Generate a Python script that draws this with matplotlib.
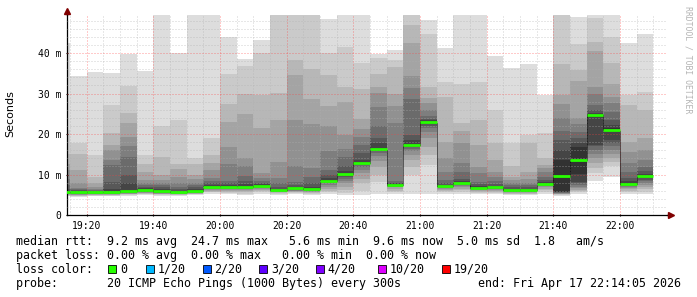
import matplotlib
matplotlib.use("Agg")
import matplotlib.pyplot as plt
from matplotlib.patches import Rectangle
import numpy as np

# ---------------- data ----------------
# bar start times, 5-minute steps from 19:10 to 22:05
bar_start_labels = ["19:10", "19:15", "19:20", "19:25", "19:30", "19:35", "19:40", "19:45",
                    "19:50", "19:55", "20:00", "20:05", "20:10", "20:15", "20:20", "20:25",
                    "20:30", "20:35", "20:40", "20:45", "20:50", "20:55", "21:00", "21:05",
                    "21:10", "21:15", "21:20", "21:25", "21:30", "21:35", "21:40", "21:45",
                    "21:50", "21:55", "22:00", "22:05"]

# median rtt per bar (ms)
median_rtt = [5.6, 5.6, 5.6, 5.7, 5.9, 6.2, 6.0, 5.6, 6.0, 7.0, 7.0, 7.0, 7.2, 6.2, 6.6, 6.3,
              8.5, 10.1, 12.9, 16.4, 7.5, 17.2, 22.9, 7.1, 7.8, 6.7, 6.8, 6.1, 6.1, 7.7, 9.7,
              13.5, 24.6, 21.1, 7.7, 9.6]

# 20 sorted ping rtts per bar (ms), used for the smoke
ping_1910 = [4.6, 4.8, 4.9, 5.0, 5.1, 5.2, 5.3, 5.4, 5.5, 5.55, 5.7, 6.0, 6.5, 7.5, 9.0, 11.0, 12.5, 15.0, 21.0, 42.4]
ping_1915 = [4.5, 4.7, 4.8, 4.9, 5.0, 5.1, 5.2, 5.3, 5.4, 5.5, 5.7, 5.9, 6.1, 6.3, 6.6, 7.8, 11.1, 15.1, 17.9, 34.3]
ping_1920 = [4.6, 4.8, 4.9, 5.0, 5.1, 5.2, 5.3, 5.4, 5.5, 5.55, 5.65, 5.8, 6.0, 6.2, 6.5, 7.0, 8.0, 9.5, 14.8, 35.4]
ping_1925 = [4.6, 4.8, 4.9, 5.0, 5.1, 5.2, 5.3, 5.4, 5.5, 5.6, 5.8, 6.3, 8.2, 12.4, 13.6, 16.0, 17.3, 20.2, 27.2, 35.1]
ping_1930 = [4.8, 5.0, 5.1, 5.2, 5.3, 5.4, 5.5, 5.6, 5.65, 5.7, 6.1, 7.8, 10.0, 14.4, 17.1, 19.3, 22.8, 25.3, 31.9, 39.8]
ping_1935 = [5.0, 5.2, 5.3, 5.4, 5.5, 5.6, 5.7, 5.8, 5.9, 6.05, 6.35, 6.6, 7.0, 7.5, 8.0, 8.6, 10.5, 12.6, 14.8, 35.6]
ping_1940 = [4.8, 5.0, 5.1, 5.2, 5.3, 5.4, 5.5, 5.6, 5.7, 5.85, 6.15, 6.5, 7.0, 7.5, 8.0, 8.6, 9.9, 14.4, 22.0, 50.0]
ping_1945 = [4.7, 4.9, 5.0, 5.1, 5.2, 5.3, 5.4, 5.45, 5.5, 5.55, 5.65, 5.9, 6.3, 6.8, 7.8, 9.3, 11.3, 12.6, 23.5, 39.9]
ping_1950 = [4.9, 5.1, 5.2, 5.3, 5.4, 5.5, 5.6, 5.7, 5.8, 5.9, 6.1, 6.4, 6.8, 7.3, 7.8, 8.8, 9.9, 12.6, 14.0, 50.0]
ping_1955 = [5.3, 5.6, 5.8, 6.0, 6.2, 6.4, 6.6, 6.7, 6.8, 6.9, 7.1, 7.4, 7.8, 8.3, 9.1, 11.1, 12.9, 14.8, 19.1, 50.0]
ping_2000 = [5.2, 5.5, 5.8, 6.0, 6.2, 6.4, 6.6, 6.7, 6.8, 6.9, 7.1, 7.5, 8.0, 8.5, 12.6, 16.9, 23.0, 27.4, 34.8, 43.9]
ping_2005 = [5.0, 5.3, 5.6, 5.9, 6.1, 6.3, 6.5, 6.7, 6.8, 6.9, 7.1, 7.6, 8.5, 9.7, 12.1, 14.2, 24.9, 30.0, 36.8, 38.5]
ping_2010 = [5.3, 5.6, 5.9, 6.2, 6.4, 6.6, 6.8, 6.9, 7.0, 7.1, 7.3, 7.6, 8.0, 8.5, 9.2, 10.3, 21.6, 29.6, 40.1, 43.2]
ping_2015 = [5.0, 5.2, 5.4, 5.6, 5.7, 5.8, 5.9, 6.0, 6.1, 6.15, 6.25, 6.5, 7.0, 7.8, 9.1, 13.2, 23.5, 30.2, 50.0, 50.0]
ping_2020 = [5.2, 5.4, 5.6, 5.8, 5.9, 6.0, 6.2, 6.3, 6.4, 6.5, 6.7, 7.0, 7.4, 8.2, 12.1, 23.5, 34.7, 38.3, 50.0, 50.0]
ping_2025 = [5.0, 5.2, 5.4, 5.6, 5.8, 5.9, 6.0, 6.1, 6.15, 6.2, 6.4, 7.0, 8.0, 9.5, 11.5, 22.6, 28.6, 36.0, 50.0, 50.0]
ping_2030 = [5.2, 5.6, 6.0, 6.5, 7.0, 7.4, 7.8, 8.1, 8.3, 8.4, 8.6, 9.2, 10.0, 11.1, 15.8, 22.0, 26.9, 34.6, 39.9, 48.4]
ping_2035 = [5.0, 5.5, 6.2, 7.0, 7.8, 8.5, 9.0, 9.5, 9.8, 10.0, 10.2, 10.8, 12.0, 14.4, 16.2, 19.8, 28.0, 31.5, 41.4, 50.0]
ping_2040 = [5.0, 6.0, 7.8, 9.0, 10.3, 11.0, 11.8, 12.3, 12.6, 12.8, 13.0, 13.6, 15.2, 17.3, 19.2, 21.2, 23.6, 31.0, 37.6, 50.0]
ping_2045 = [5.3, 8.2, 10.0, 11.9, 13.4, 14.5, 15.2, 15.7, 16.0, 16.2, 16.6, 17.8, 18.9, 22.0, 26.6, 30.2, 31.7, 34.8, 38.9, 39.8]
ping_2050 = [5.2, 5.6, 6.0, 6.4, 6.8, 7.0, 7.2, 7.3, 7.4, 7.4, 7.6, 7.8, 8.0, 8.4, 22.8, 26.9, 30.0, 36.5, 38.4, 40.7]
ping_2055 = [5.3, 9.9, 11.9, 13.5, 14.8, 15.8, 16.3, 16.7, 16.9, 17.1, 17.3, 18.5, 19.8, 28.6, 31.3, 34.3, 42.6, 46.9, 50.0, 50.0]
ping_2100 = [5.3, 12.3, 14.8, 16.9, 19.0, 20.5, 21.5, 22.0, 22.4, 22.7, 23.1, 23.4, 23.8, 24.5, 25.9, 27.6, 28.8, 31.7, 44.7, 48.1]
ping_2105 = [5.3, 5.6, 5.9, 6.2, 6.5, 6.7, 6.8, 6.9, 7.0, 7.05, 7.15, 7.5, 8.0, 8.6, 10.5, 14.0, 18.1, 29.1, 32.9, 41.3]
ping_2110 = [5.3, 5.7, 6.1, 6.5, 6.9, 7.2, 7.4, 7.6, 7.7, 7.75, 7.85, 8.3, 9.0, 10.7, 12.8, 17.9, 20.8, 22.8, 32.3, 50.0]
ping_2115 = [5.2, 5.5, 5.8, 6.0, 6.2, 6.4, 6.5, 6.6, 6.65, 6.7, 6.75, 7.2, 7.7, 8.2, 10.3, 11.9, 17.3, 23.5, 32.9, 50.0]
ping_2120 = [5.2, 5.5, 5.8, 6.0, 6.2, 6.4, 6.5, 6.6, 6.7, 6.75, 6.85, 7.2, 7.7, 8.5, 9.5, 10.7, 13.6, 17.7, 25.9, 39.3]
ping_2125 = [4.9, 5.1, 5.3, 5.5, 5.6, 5.7, 5.8, 5.9, 6.0, 6.05, 6.15, 6.4, 6.8, 7.3, 7.8, 8.6, 9.5, 12.0, 17.7, 36.2]
ping_2130 = [4.9, 5.1, 5.3, 5.5, 5.6, 5.7, 5.8, 5.9, 6.0, 6.05, 6.15, 6.4, 6.8, 7.3, 7.8, 9.0, 10.7, 17.7, 19.8, 37.4]
ping_2135 = [5.3, 5.7, 6.1, 6.5, 6.9, 7.2, 7.4, 7.5, 7.6, 7.65, 7.75, 8.1, 8.6, 9.5, 10.5, 11.5, 12.3, 14.0, 20.2, 29.6]
ping_2140 = [4.8, 5.0, 5.1, 5.2, 5.3, 5.4, 5.5, 5.6, 5.7, 5.8, 13.6, 16.0, 18.5, 20.8, 24.0, 27.3, 29.6, 37.4, 50.0, 50.0]
ping_2145 = [5.3, 5.6, 5.9, 6.2, 6.6, 7.0, 7.5, 7.9, 8.2, 10.1, 16.9, 17.8, 18.9, 20.5, 22.5, 23.9, 33.1, 35.8, 42.2, 48.8]
ping_2150 = [8.5, 10.3, 11.5, 12.8, 14.0, 15.0, 16.0, 17.0, 17.3, 24.3, 24.9, 25.3, 26.0, 27.2, 30.0, 31.5, 40.6, 42.8, 48.6, 50.0]
ping_2155 = [9.5, 12.1, 13.0, 14.0, 15.0, 16.0, 17.0, 17.7, 18.5, 20.6, 21.6, 22.3, 23.5, 25.5, 27.6, 29.1, 32.3, 37.6, 44.0, 50.0]
ping_2200 = [5.2, 5.6, 6.0, 6.4, 6.7, 6.9, 7.1, 7.3, 7.4, 7.5, 7.9, 8.4, 9.2, 10.5, 12.9, 15.5, 18.1, 27.2, 29.6, 42.4]
ping_2205 = [5.3, 5.8, 6.3, 6.8, 7.3, 7.8, 8.3, 8.7, 9.1, 9.4, 9.8, 10.2, 10.8, 11.9, 13.5, 16.0, 18.9, 25.9, 30.5, 44.7]

pings = [ping_1910, ping_1915, ping_1920, ping_1925, ping_1930, ping_1935, ping_1940, ping_1945,
         ping_1950, ping_1955, ping_2000, ping_2005, ping_2010, ping_2015, ping_2020, ping_2025,
         ping_2030, ping_2035, ping_2040, ping_2045, ping_2050, ping_2055, ping_2100, ping_2105,
         ping_2110, ping_2115, ping_2120, ping_2125, ping_2130, ping_2135, ping_2140, ping_2145,
         ping_2150, ping_2155, ping_2200, ping_2205]

x_tick_labels = ["19:20", "19:40", "20:00", "20:20", "20:40", "21:00", "21:20", "21:40", "22:00"]
y_ticks = [0, 10, 20, 30, 40]
y_tick_labels = ["0", "10 m", "20 m", "30 m", "40 m"]
view_start = "19:14:05"
view_end = "22:14:05"

loss_labels = ["0", "1/20", "2/20", "3/20", "4/20", "10/20", "19/20"]
loss_colors = ["#26ff00", "#00b8ff", "#0059ff", "#5e00ff", "#7e00ff", "#dd00ff", "#ff0000"]

legend_median = "median rtt:  9.2 ms avg  24.7 ms max   5.6 ms min  9.6 ms now  5.0 ms sd  1.8   am/s"
legend_loss = "packet loss: 0.00 % avg  0.00 % max   0.00 % min  0.00 % now"
legend_probe = "probe:       20 ICMP Echo Pings (1000 Bytes) every 300s"
legend_end = "end: Fri Apr 17 22:14:05 2026"
watermark = "RRDTOOL / TOBI OETIKER"

# ---------------- helpers ----------------
def to_min(s):
    parts = [float(p) for p in s.split(":")]
    while len(parts) < 3:
        parts.append(0.0)
    return parts[0] * 60 + parts[1] + parts[2] / 60.0

bar_x = np.array([to_min(s) for s in bar_start_labels])
step = 5.0
P = np.array(pings)
med = np.array(median_rtt)

W, H = 697, 297
fig = plt.figure(figsize=(W / 100, H / 100), dpi=100)
fig.patch.set_facecolor("white")
ax = fig.add_axes([67 / W, (H - 215) / H, 600 / W, 200 / H])
ax.set_facecolor("white")

x0, x1 = to_min(view_start), to_min(view_end)
ymax = 49.4
ax.set_xlim(x0, x1)
ax.set_ylim(0, ymax)

# smoke layers (smokeping style: outer pairs light, inner pairs dark)
for k in range(10):
    g = int(190 / 10 * (10 - (k + 1))) + 50
    col = "#%02x%02x%02x" % (g, g, g)
    lo = P[:, k]
    hi = P[:, 19 - k]
    ax.bar(bar_x, hi - lo, bottom=lo, width=step, align="edge", color=col,
           linewidth=0, antialiased=False, zorder=1 + k * 0.01)

# grid (on top, like rrdtool)
major_x = np.array([to_min(s) for s in x_tick_labels])
minor_x = [v for v in np.arange(to_min("19:15"), x1, 5.0) if not np.any(np.isclose(v, major_x))]
minor_y = [v for v in np.arange(2, ymax, 2) if v % 10 != 0]
dots = (0, (1, 2))
ax.vlines(minor_x, 0, ymax, colors="#b0b0b0", linestyles=[dots], linewidth=0.72, alpha=0.6, zorder=3)
ax.hlines(minor_y, x0, x1, colors="#b0b0b0", linestyles=[dots], linewidth=0.72, alpha=0.6, zorder=3)
ax.vlines(major_x, 0, ymax, colors="#ff3f3f", linestyles=[dots], linewidth=0.72, alpha=0.55, zorder=3)
ax.hlines(y_ticks[1:], x0, x1, colors="#ff3f3f", linestyles=[dots], linewidth=0.72, alpha=0.55, zorder=3)

# median connectors and median line
bx = bar_x[1:]
ax.vlines(bx, np.minimum(med[:-1], med[1:]), np.maximum(med[:-1], med[1:]),
          colors="#000000", linestyles=[(0, (1, 1))], linewidth=0.72, zorder=4)
ax.hlines(med, bar_x, bar_x + step, colors=loss_colors[0], linewidth=2.0, zorder=5)

# axes styling
for s in ["top", "right"]:
    ax.spines[s].set_visible(False)
for s in ["left", "bottom"]:
    ax.spines[s].set_color("#000000")
    ax.spines[s].set_linewidth(0.9)
ax.set_xticks(major_x)
ax.set_xticklabels(x_tick_labels)
ax.set_yticks(y_ticks)
ax.set_yticklabels(y_tick_labels)
ax.tick_params(axis="both", length=2, width=0.8, direction="inout", pad=3,
               labelsize=7.0, colors="#000000")
for t in ax.get_xticklabels() + ax.get_yticklabels():
    t.set_family("DejaVu Sans Mono")

# axis arrows
ax.plot([0, 0], [1.0, 1.02], color="#000000", lw=0.9, transform=ax.transAxes, clip_on=False)
ax.plot([1.0, 1.006], [0, 0], color="#000000", lw=0.9, transform=ax.transAxes, clip_on=False)
ax.plot([0], [1.02], marker="^", color="#800000", markersize=4, transform=ax.transAxes,
        clip_on=False, zorder=6)
ax.plot([1.006], [0], marker=">", color="#800000", markersize=4, transform=ax.transAxes,
        clip_on=False, zorder=6)

fig.text(10 / W, 1 - 114 / H, "Seconds", rotation=90, ha="center", va="center",
         fontsize=8, family="DejaVu Sans", color="#000000")
fig.text(688 / W, 1 - 60 / H, watermark, rotation=270, ha="center", va="center",
         fontsize=5.9, family="DejaVu Sans Mono", color="#b4b4b4")

mono = dict(family="DejaVu Sans Mono", fontsize=8.4, color="#000000", va="baseline", ha="left")
fig.text(16 / W, 1 - 245 / H, legend_median, **mono)
fig.text(16 / W, 1 - 259 / H, legend_loss, **mono)
fig.text(16 / W, 1 - 273 / H, "loss color:", **mono)
sq_x = [108.3, 146, 202.7, 259.3, 316, 378.3, 441.7]
for xs, lab, c in zip(sq_x, loss_labels, loss_colors):
    fig.patches.append(Rectangle((xs / W, 1 - 273 / H), 8 / W, 8 / H, transform=fig.transFigure,
                                 facecolor=c, edgecolor="#000000", linewidth=0.6))
    fig.text((xs + 11.8) / W, 1 - 273 / H, lab, **mono)
fig.text(16 / W, 1 - 287 / H, legend_probe, **mono)
fig.text(478 / W, 1 - 287 / H, legend_end, **mono)

fig.savefig("out.png", dpi=100)
